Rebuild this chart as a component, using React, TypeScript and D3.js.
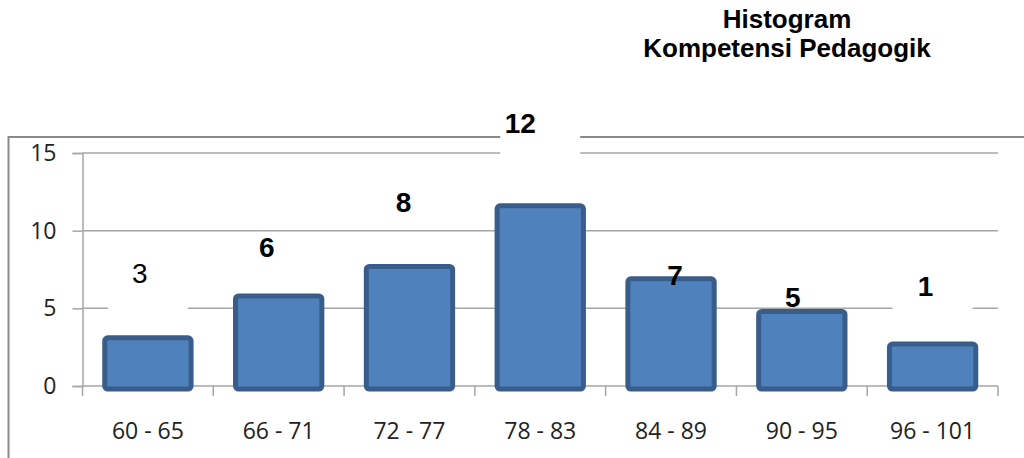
import React, { useEffect, useRef } from 'react';
import * as d3 from 'd3';

// score intervals and frequencies
const categories = ['60 - 65', '66 - 71', '72 - 77', '78 - 83', '84 - 89', '90 - 95', '96 - 101'];
const counts = [3, 6, 8, 12, 7, 5, 1];
// bar heights as drawn in the picture (they don't quite match the labels)
const barHeights = [3.1, 5.8, 7.7, 11.6, 6.9, 4.8, 2.7];
const yTicks = [0, 5, 10, 15];
const titleLines = ['Histogram', 'Kompetensi Pedagogik'];

// label placement: nudge in px, height in axis units, white box behind or not
const labelPlace = [
  { dx: -8, at: 7.3, box: true, bold: false },
  { dx: -12, at: 8.95, box: false, bold: true },
  { dx: -6, at: 11.85, box: false, bold: true },
  { dx: -20, at: 16.95, box: true, bold: true },
  { dx: 4, at: 7.15, box: false, bold: true },
  { dx: -9, at: 5.75, box: false, bold: true },
  { dx: -7, at: 6.45, box: true, bold: true },
];

function App() {
  const svgRef = useRef<SVGSVGElement>(null);

  useEffect(() => {
    const svg = d3.select(svgRef.current);
    svg.selectAll('*').remove();

    const W = 1024, H = 458;
    const left = 82.5, right = 998, top = 153, bottom = 386;
    const grid = '#a6a6a6';

    const x = d3.scaleBand().domain(categories).range([left, right]).padding(0);
    const y = d3.scaleLinear().domain([0, 15]).range([bottom, top]);

    svg.attr('width', W).attr('height', H);

    // title
    svg.append('g')
      .selectAll('text')
      .data(titleLines)
      .enter()
      .append('text')
      .attr('x', 787)
      .attr('y', (d, i) => 28 + i * 29)
      .attr('text-anchor', 'middle')
      .attr('font-family', '"Liberation Sans", Arial, sans-serif')
      .attr('font-weight', 'bold')
      .attr('font-size', 26)
      .attr('fill', '#000')
      .text(d => d);

    // outer chart frame
    svg.append('path')
      .attr('d', `M8.5,${H} L8.5,137 L${W},137`)
      .attr('fill', 'none')
      .attr('stroke', '#8a8a8a')
      .attr('stroke-width', 2);

    // horizontal gridlines
    svg.append('g')
      .selectAll('line')
      .data(yTicks.filter(t => t > 0))
      .enter()
      .append('line')
      .attr('x1', left)
      .attr('x2', right)
      .attr('y1', d => y(d))
      .attr('y2', d => y(d))
      .attr('stroke', grid)
      .attr('stroke-width', 1.5);

    // y axis
    const yAxis = d3.axisLeft(y).tickValues(yTicks).tickSize(10).tickPadding(16);
    const gy = svg.append('g').attr('transform', `translate(${left},0)`).call(yAxis);
    gy.select('.domain').attr('stroke', grid).attr('stroke-width', 1.5);
    gy.selectAll('.tick line').attr('stroke', grid).attr('stroke-width', 1.5);
    gy.selectAll('.tick text')
      .attr('font-family', '"Open Sans", sans-serif')
      .attr('font-size', 23)
      .attr('fill', '#222');

    // x axis with boundary ticks
    svg.append('line')
      .attr('x1', left).attr('x2', right)
      .attr('y1', bottom).attr('y2', bottom)
      .attr('stroke', grid).attr('stroke-width', 1.5);
    const bounds = categories.map(c => x(c) as number).concat([right]);
    svg.append('g')
      .selectAll('line')
      .data(bounds)
      .enter()
      .append('line')
      .attr('x1', d => d).attr('x2', d => d)
      .attr('y1', bottom).attr('y2', bottom + 10)
      .attr('stroke', grid).attr('stroke-width', 1.5);
    svg.append('g')
      .selectAll('text')
      .data(categories)
      .enter()
      .append('text')
      .attr('x', d => (x(d) as number) + x.bandwidth() / 2)
      .attr('y', 439)
      .attr('text-anchor', 'middle')
      .attr('font-family', '"Open Sans", sans-serif')
      .attr('font-size', 23)
      .attr('fill', '#222')
      .text(d => d);

    // white backgrounds behind some data labels
    const boxW = 80;
    svg.append('g')
      .selectAll('rect')
      .data(categories.map((c, i) => ({ c, p: labelPlace[i] })).filter(d => d.p.box))
      .enter()
      .append('rect')
      .attr('x', d => (x(d.c) as number) + x.bandwidth() / 2 - boxW / 2)
      .attr('y', d => y(d.p.at) - 30)
      .attr('width', boxW)
      .attr('height', 68)
      .attr('fill', '#fff');

    // bars
    const barW = x.bandwidth() * 0.66;
    svg.append('g')
      .selectAll('rect')
      .data(barHeights)
      .enter()
      .append('rect')
      .attr('x', (d, i) => (x(categories[i]) as number) + (x.bandwidth() - barW) / 2)
      .attr('y', d => y(d))
      .attr('width', barW)
      .attr('height', d => y(0) - y(d) + 3)
      .attr('rx', 3)
      .attr('fill', '#4f81bd')
      .attr('stroke', '#385d8a')
      .attr('stroke-width', 5);

    // data labels
    svg.append('g')
      .selectAll('text')
      .data(counts)
      .enter()
      .append('text')
      .attr('x', (d, i) => (x(categories[i]) as number) + x.bandwidth() / 2 + labelPlace[i].dx)
      .attr('y', (d, i) => y(labelPlace[i].at))
      .attr('dy', '0.36em')
      .attr('text-anchor', 'middle')
      .attr('font-family', '"Liberation Sans", Arial, sans-serif')
      .attr('font-weight', (d, i) => (labelPlace[i].bold ? 'bold' : 'normal'))
      .attr('font-size', 28)
      .attr('fill', '#000')
      .text(d => d);
  }, []);

  return (
    <div style={{ position: 'absolute', left: 0, top: 0, width: 1024, height: 458, background: '#fff' }}>
      <svg ref={svgRef} style={{ display: 'block' }}></svg>
    </div>
  );
}

export default App;
